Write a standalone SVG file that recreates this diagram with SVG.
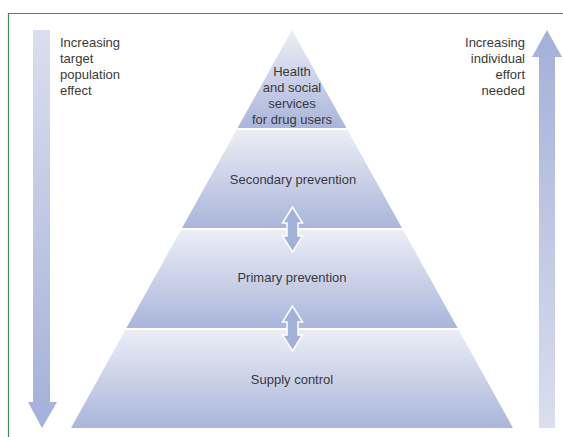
<svg xmlns="http://www.w3.org/2000/svg" width="563" height="437" viewBox="0 0 563 437">
<style>
text{font-family:"Liberation Sans",Arial,sans-serif;font-size:13px;fill:#3a3a3a}
.c{text-anchor:middle}
.r{text-anchor:end}
.dbl{fill:#a3b1d8;stroke:#ffffff;stroke-width:1.5}
</style>
<defs>
<linearGradient id="tier" x1="0" y1="0" x2="0" y2="1">
<stop offset="0" stop-color="#eceef6"/>
<stop offset="1" stop-color="#a9b5da"/>
</linearGradient>
<linearGradient id="down" x1="0" y1="0" x2="0" y2="1">
<stop offset="0" stop-color="#dadeee"/>
<stop offset="1" stop-color="#a3b0d8"/>
</linearGradient>
<linearGradient id="up" x1="0" y1="0" x2="0" y2="1">
<stop offset="0" stop-color="#a3b0d8"/>
<stop offset="1" stop-color="#dadeee"/>
</linearGradient>
</defs>
<rect width="563" height="437" fill="#ffffff"/>
<path d="M8.5,437 V13.5 H563" fill="none" stroke="#3d8c5c" stroke-width="1.2"/>
<g id="arrow-left">
<path d="M33,30 H50 V402 H57 L42,428 L28,402 H33 Z" fill="url(#down)"/>
<text x="60" y="47">Increasing</text>
<text x="60" y="63">target</text>
<text x="60" y="79">population</text>
<text x="60" y="95">effect</text>
</g>
<g id="arrow-right">
<path d="M547,30 L562,57 H555 V428 H539 V57 H532 Z" fill="url(#up)"/>
<text class="r" x="525" y="47">Increasing</text>
<text class="r" x="525" y="63">individual</text>
<text class="r" x="525" y="79">effort</text>
<text class="r" x="525" y="95">needed</text>
</g>
<g id="tier-health">
<path d="M292,30 L346.4,128 H237.6 Z" fill="url(#tier)"/>
<text class="c" x="292" y="76">Health</text>
<text class="c" x="292" y="92">and social</text>
<text class="c" x="292" y="108">services</text>
<text class="c" x="292" y="124">for drug users</text>
</g>
<g id="tier-secondary">
<path d="M236.5,130 H347.5 L402,228 H182 Z" fill="url(#tier)"/>
<text class="c" x="293" y="184">Secondary prevention</text>
</g>
<g id="tier-primary">
<path d="M180.9,230 H403.1 L457.6,328 H126.4 Z" fill="url(#tier)"/>
<text class="c" x="292" y="282">Primary prevention</text>
</g>
<g id="tier-supply">
<path d="M125.3,330 H458.7 L513,428 H71 Z" fill="url(#tier)"/>
<text class="c" x="292" y="384">Supply control</text>
</g>
<g id="connectors">
<path class="dbl" d="M292.5,207 L302.5,223 H298 V236 H302.5 L292.5,252 L282.5,236 H287 V223 H282.5 Z"/>
<path class="dbl" d="M292.5,306 L302.5,322 H298 V335 H302.5 L292.5,351 L282.5,335 H287 V322 H282.5 Z"/>
</g>
</svg>
